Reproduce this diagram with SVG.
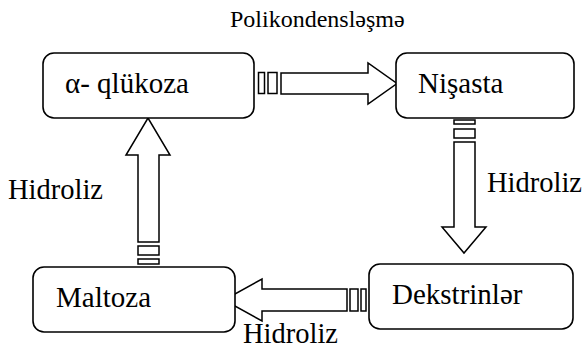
<svg xmlns="http://www.w3.org/2000/svg" width="584" height="349" viewBox="0 0 584 349">
  <style>
    .box { fill: #ffffff; stroke: #000000; stroke-width: 1.6; }
    .arr { fill: #ffffff; stroke: #000000; stroke-width: 1.5; stroke-linejoin: miter; }
    text { font-family: 'Liberation Serif', 'Times New Roman', serif; fill: #000000; }
    .lbl { font-size: 29px; }
    .hyd { font-size: 28.5px; }
    .cap { font-size: 24px; }
  </style>
  <rect width="584" height="349" fill="#ffffff"/>

  <g id="connectors">
    <!-- α-qlükoza → Nişasta -->
    <g id="arrow-polycondensation">
      <rect class="arr" x="258.5" y="72.5" width="6" height="21"/>
      <rect class="arr" x="268" y="72.5" width="9" height="21"/>
      <polygon class="arr" points="281,73 368,73 368,63 397,83.5 368,104 368,94 281,94"/>
    </g>
    <!-- Nişasta → Dekstrinlər -->
    <g id="arrow-hydrolysis-1">
      <rect class="arr" x="454" y="120" width="21" height="4"/>
      <rect class="arr" x="454" y="129" width="21" height="9"/>
      <polygon class="arr" points="454,142 454,227 442,227 464,253 486,227 475,227 475,142"/>
    </g>
    <!-- Dekstrinlər → Maltoza -->
    <g id="arrow-hydrolysis-2">
      <rect class="arr" x="361" y="289" width="5" height="22"/>
      <rect class="arr" x="350" y="289" width="8" height="22"/>
      <polygon class="arr" points="347,289 262,289 262,279 224,300 262,321 262,311 347,311"/>
    </g>
    <!-- Maltoza → α-qlükoza -->
    <g id="arrow-hydrolysis-3">
      <rect class="arr" x="138" y="259" width="21" height="5"/>
      <rect class="arr" x="138" y="246" width="21" height="9"/>
      <polygon class="arr" points="138,242 138,155 126,155 148,118 170,155 159,155 159,242"/>
    </g>
  </g>

  <g id="node-glucose">
    <rect class="box" x="43" y="53" width="211" height="65" rx="11" ry="11"/>
    <text class="lbl" x="65" y="93">α- qlükoza</text>
  </g>
  <g id="node-starch">
    <rect class="box" x="396" y="53" width="178" height="65" rx="11" ry="11"/>
    <text class="lbl" x="418" y="93">Nişasta</text>
  </g>
  <g id="node-dextrins">
    <rect class="box" x="369" y="264" width="204" height="65" rx="11" ry="11"/>
    <text class="lbl" x="392" y="304">Dekstrinlər</text>
  </g>
  <g id="node-maltose">
    <rect class="box" x="33" y="267" width="202" height="65" rx="11" ry="11"/>
    <text class="lbl" x="56" y="307">Maltoza</text>
  </g>

  <g id="labels">
    <text class="cap" x="230" y="27">Polikondensləşmə</text>
    <text class="hyd" x="487" y="192">Hidroliz</text>
    <text class="hyd" x="8" y="199">Hidroliz</text>
    <text class="hyd" x="243" y="343">Hidroliz</text>
  </g>
</svg>
